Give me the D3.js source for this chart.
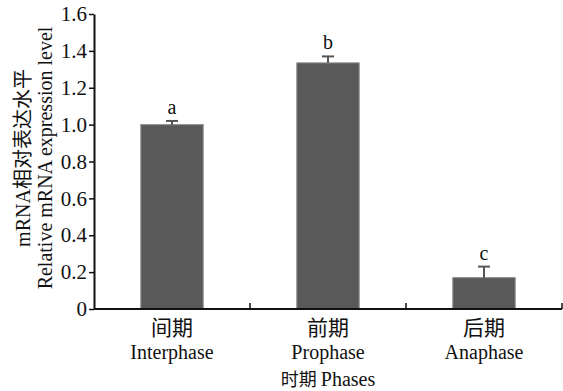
<!DOCTYPE html>
<html>
<head>
<meta charset="utf-8">
<script src="https://cdn.jsdelivr.net/npm/d3@7/dist/d3.min.js"></script>
<style>
  body { margin: 0; background: #fff; }
  svg { display: block; }
  text { fill: #111; }
</style>
</head>
<body>
<svg id="chart" width="563" height="391"></svg>
<script>
const phasesCn = ['间期', '前期', '后期']
const phasesEn = ['Interphase', 'Prophase', 'Anaphase']
const values = [1.00, 1.335, 0.17]
const errors = [0.02, 0.035, 0.06]
const letters = ['a', 'b', 'c']
const yTicks = [0, 0.2, 0.4, 0.6, 0.8, 1.0, 1.2, 1.4, 1.6]

const SERIF = '"Liberation Serif", "Times New Roman", "Noto Sans CJK SC", serif'
const CJK = '"Noto Sans CJK SC", sans-serif'
const FS = 21

const margin = { top: 14, left: 94, right: 1, bottom: 82 }
const width = 563 - margin.left - margin.right
const height = 391 - margin.top - margin.bottom

const svg = d3.select('#chart')
const g = svg.append('g').attr('transform', `translate(${margin.left},${margin.top})`)

const x = d3.scaleBand().domain(phasesEn).range([0, width]).paddingInner(0.6).paddingOuter(0.3)
const y = d3.scaleLinear().domain([0, 1.6]).range([height, 0])

// y axis
const yAxis = g.append('g')
  .call(d3.axisLeft(y).tickValues(yTicks).tickSize(5).tickSizeOuter(0)
    .tickFormat(d => d === 0 ? '0' : d.toFixed(1)))
yAxis.attr('font-family', SERIF).attr('font-size', FS)
yAxis.select('.domain').attr('stroke', '#111').attr('stroke-width', 2)
yAxis.selectAll('.tick line').attr('stroke', '#111').attr('stroke-width', 1.5)
yAxis.selectAll('.tick text').attr('x', -7).attr('fill', '#111')

// bars
g.selectAll('.bar')
  .data(values)
  .enter().append('rect')
  .attr('class', 'bar')
  .attr('x', (d, i) => x(phasesEn[i]))
  .attr('y', d => y(d))
  .attr('width', x.bandwidth())
  .attr('height', d => height - y(d))
  .attr('fill', '#595959')
  .attr('stroke', '#8c8c8c')
  .attr('stroke-width', 1)

// error bars (upper only)
const cx = i => x(phasesEn[i]) + x.bandwidth() / 2
const eb = g.selectAll('.err').data(values).enter().append('g').attr('class', 'err')
  .attr('stroke', '#555').attr('stroke-width', 2)
eb.append('line')
  .attr('x1', (d, i) => cx(i)).attr('x2', (d, i) => cx(i))
  .attr('y1', d => y(d)).attr('y2', (d, i) => y(d + errors[i]))
eb.append('line')
  .attr('x1', (d, i) => cx(i) - 6).attr('x2', (d, i) => cx(i) + 6)
  .attr('y1', (d, i) => y(d + errors[i])).attr('y2', (d, i) => y(d + errors[i]))

// significance letters
g.selectAll('.sig').data(values).enter().append('text')
  .attr('x', (d, i) => cx(i))
  .attr('y', (d, i) => y(d + errors[i]) - 7)
  .attr('text-anchor', 'middle')
  .attr('font-family', SERIF)
  .attr('font-size', 20)
  .text((d, i) => letters[i])

// x axis
g.append('line')
  .attr('x1', 0).attr('x2', width)
  .attr('y1', height).attr('y2', height)
  .attr('stroke', '#111').attr('stroke-width', 2)
const bounds = d3.range(1, phasesEn.length + 1).map(i => x.range()[0] + i * x.step())
g.selectAll('.xtick').data(bounds).enter().append('line')
  .attr('x1', d => d).attr('x2', d => d)
  .attr('y1', height).attr('y2', height - 6)
  .attr('stroke', '#111').attr('stroke-width', 1.5)

const xl = g.selectAll('.xlab').data(phasesEn).enter().append('g')
  .attr('transform', (d, i) => `translate(${cx(i)},${height})`)
xl.append('text').attr('y', 26).attr('text-anchor', 'middle').attr('font-size', 21)
  .attr('font-family', CJK)
  .text((d, i) => phasesCn[i])
xl.append('text').attr('y', 50).attr('text-anchor', 'middle').attr('font-size', 20)
  .attr('font-family', SERIF)
  .text(d => d)

const title = svg.append('text')
  .attr('x', margin.left + x.range()[0] + x.step() * 1.5)
  .attr('y', 386)
  .attr('text-anchor', 'middle')
  .attr('font-size', 20)
  .attr('font-family', SERIF)
title.append('tspan').attr('font-family', CJK).attr('font-size', 18).text('时期 ')
title.append('tspan').text('Phases')

// y title
const yt = svg.append('g').attr('transform', 'translate(0,158) rotate(-90)')
const t1 = yt.append('text').attr('x', 0).attr('y', 30).attr('text-anchor', 'middle')
  .attr('font-size', 20).attr('font-family', SERIF)
t1.append('tspan').text('mRNA')
t1.append('tspan').attr('font-family', CJK).attr('font-size', 20).text('相对表达水平')
yt.append('text').attr('x', 0).attr('y', 52).attr('text-anchor', 'middle')
  .attr('font-size', 20).attr('font-family', SERIF)
  .text('Relative mRNA expression level')
</script>
</body>
</html>
